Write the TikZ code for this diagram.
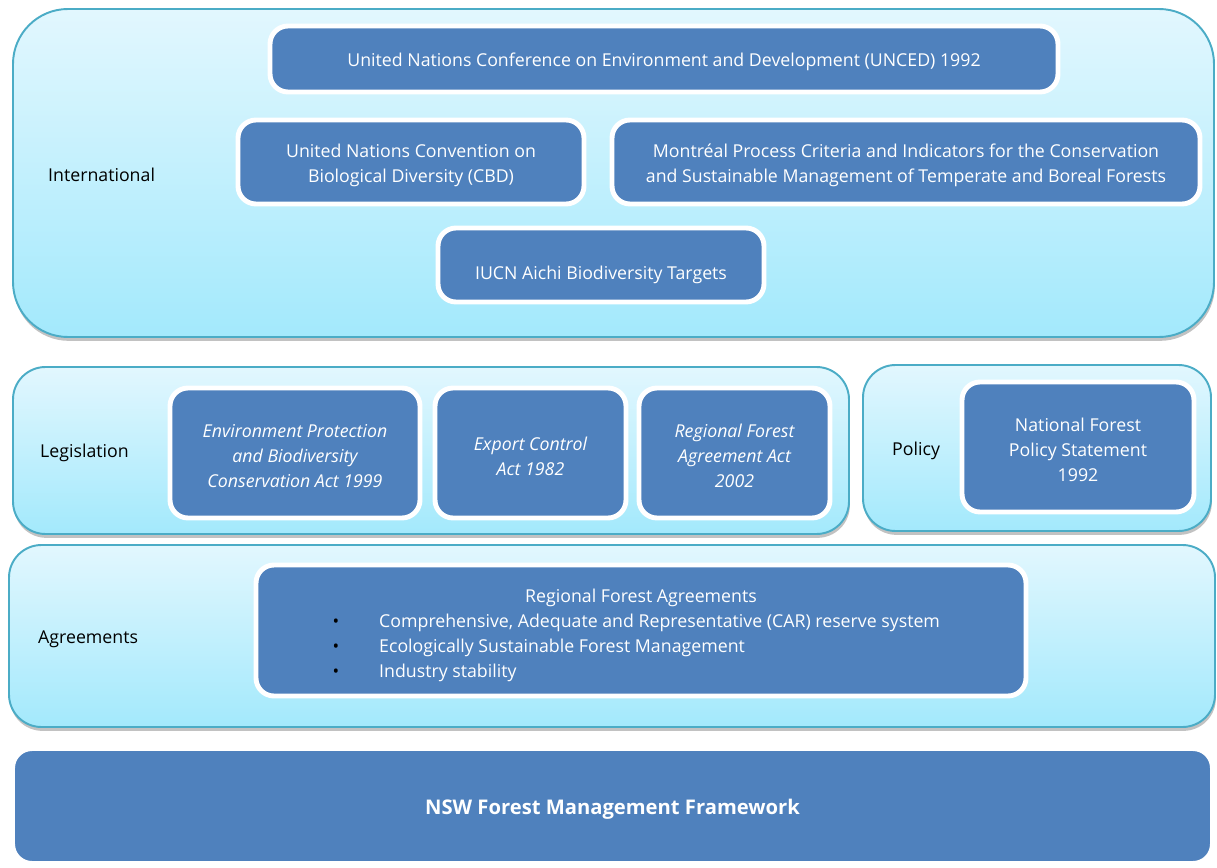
\documentclass[tikz,border=0pt]{standalone}
\usepackage{fontspec}
\setmainfont{Open Sans}
\usetikzlibrary{fit,shadows}
\definecolor{boxblue}{HTML}{4F81BD}
\definecolor{rimteal}{HTML}{4BACC6}
\definecolor{paletop}{HTML}{E2F7FE}
\definecolor{palebot}{HTML}{A3E9FC}

\begin{document}
\begin{tikzpicture}[x=0.02cm,y=-0.02cm]
\tikzstyle{tier}=[draw=rimteal, line width=1.1pt, top color=paletop, bottom color=palebot, inner sep=0pt, drop shadow={shadow xshift=0.5pt, shadow yshift=-2.2pt, opacity=0.4, fill=black!60}]
\tikzstyle{item}=[draw=white, line width=2.8pt, fill=boxblue, rounded corners=0.36cm, inner sep=0pt]
\tikzstyle{itemtext}=[text=white, align=center, yshift=-0.06cm, font=\fontsize{10.1}{14.2}\selectfont]
\tikzstyle{acttext}=[itemtext, font=\itshape\fontsize{10.1}{14.2}\selectfont]
\tikzstyle{tag}=[anchor=west, font=\fontsize{10.1}{12}\selectfont]
\tikzstyle{dotitem}=[anchor=west, text=white, font=\fontsize{10.1}{12}\selectfont]
\useasboundingbox (0,0) rectangle (1217,868);

\node[tier, rounded corners=1.1cm, fit={(13,9) (1214,337)}] (intl) {};
\node[tier, rounded corners=0.65cm, fit={(13,367) (849,534)}] (legis) {};
\node[tier, rounded corners=0.65cm, fit={(863,365) (1211,531)}] (policy) {};
\node[tier, rounded corners=0.65cm, fit={(9,545) (1215,727)}] (agree) {};

\node[tag] (intltag) at (42,175) {International};
\node[tag] (legistag) at (34,453) {Legislation};
\node[tag] (policytag) at (886,451) {Policy};
\node[tag] (agreetag) at (32,639) {Agreements};

\node[item, fit={(270,26) (1058,92)}] (unced) {};
\node[item, fit={(238,120) (584,204)}] (cbd) {};
\node[item, fit={(612,120) (1200,204)}] (montreal) {};
\node[item, fit={(438,228) (764,302)}] (iucn) {};
\node[item, fit={(170,388) (420,518)}] (epbc) {};
\node[item, fit={(435,388) (626,518)}] (export) {};
\node[item, fit={(639,388) (830,518)}] (rfaact) {};
\node[item, fit={(962,382) (1194,512)}] (nfps) {};
\node[item, fit={(256,565) (1026,696)}] (rfa) {};
\node[item, line width=3.4pt, rounded corners=0.4cm, drop shadow={shadow xshift=0pt, shadow yshift=-1pt, opacity=0.15, fill=black!50}, fit={(12,748) (1213,864)}] (nsw) {};

\node[itemtext] at (unced.center) {United Nations Conference on Environment and Development (UNCED) 1992};
\node[itemtext] at (cbd.center) {United Nations Convention on\\Biological Diversity (CBD)};
\node[itemtext] at (montreal.center) {Montréal Process Criteria and Indicators for the Conservation\\and Sustainable Management of Temperate and Boreal Forests};
\node[itemtext, yshift=-0.14cm] at (iucn.center) {IUCN Aichi Biodiversity Targets};
\node[acttext] at (epbc.center) {Environment Protection\\and Biodiversity\\Conservation Act 1999};
\node[acttext] at (export.center) {Export Control\\Act 1982};
\node[acttext] at (rfaact.center) {Regional Forest\\Agreement Act\\2002};
\node[itemtext] at (nfps.center) {National Forest\\Policy Statement\\1992};

\node[dotitem, anchor=center] (rfatitle) at (641,598) {Regional Forest Agreements};
\foreach \y/\txt in {623/{Comprehensive, Adequate and Representative (CAR) reserve system},648/{Ecologically Sustainable Forest Management},673/{Industry stability}} {
  \node[anchor=center, font=\fontsize{10}{12}\selectfont] at (336,\y) {\textbullet};
  \node[dotitem] at (373,\y) {\txt};
}

\node[text=white, yshift=-0.06cm, font=\bfseries\fontsize{11.5}{14}\selectfont] at (nsw.center) {NSW Forest Management Framework};
\end{tikzpicture}
\end{document}
